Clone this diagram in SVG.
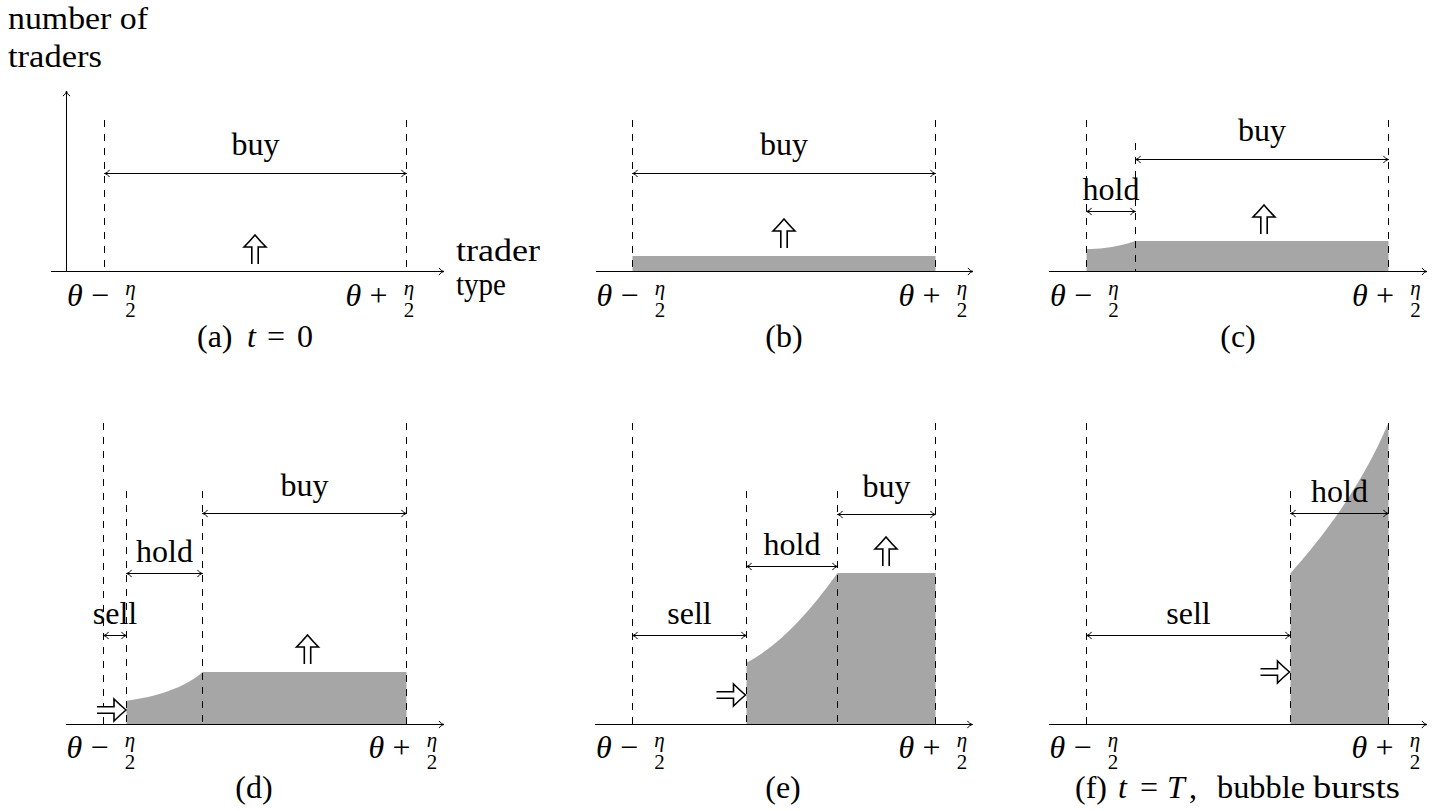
<svg xmlns="http://www.w3.org/2000/svg" xmlns:xlink="http://www.w3.org/1999/xlink" width="1440" height="811" viewBox="0 0 1440 811">
<style>
.t{font-family:"Liberation Serif","Times New Roman",serif;font-size:32px;fill:#000}
.i{font-style:italic}
.s{font-size:21px}
.c{text-anchor:middle}
.ax{stroke:#000;stroke-width:1;fill:none}
.dash{stroke:#000;stroke-width:1;stroke-dasharray:7 7;fill:none}
.dim{stroke:#000;stroke-width:1;fill:none;marker-start:url(#tip);marker-end:url(#tip)}
.fill{fill:#a6a6a6;stroke:none}
</style>
<defs>
<marker id="tip" markerUnits="userSpaceOnUse" viewBox="-7 -5 9 10" refX="0" refY="0" markerWidth="9" markerHeight="10" orient="auto-start-reverse" overflow="visible">
<path d="M-5,-3.6 C-4,-1.5 -1.5,-0.5 0,0 C-1.5,0.5 -4,1.5 -5,3.6" fill="none" stroke="#000" stroke-width="1"/>
</marker>
<path id="uarr" d="M-3.2,29 V12 H-11 Q-5.5,6.5 0,0 Q5.5,6.5 11,12 H3.2 V29" fill="#fff" stroke="#000" stroke-width="1.6" stroke-linejoin="miter"/>
</defs>
<rect width="1440" height="811" fill="#fff"/>

<g id="ylabel">
<text class="t" x="8" y="29" textLength="140" lengthAdjust="spacingAndGlyphs">number of</text>
<text class="t" x="8" y="67" textLength="94" lengthAdjust="spacingAndGlyphs">traders</text>
</g>

<!-- Panel a -->
<g id="panel-a">
<line class="dash" x1="104.5" y1="120" x2="104.5" y2="271.5"/>
<line class="dash" x1="406.5" y1="120" x2="406.5" y2="271.5"/>
<text class="t c" x="255.5" y="155">buy</text>
<use xlink:href="#uarr" href="#uarr" transform="translate(255,235)"/>
<text class="t" x="456" y="261" textLength="84" lengthAdjust="spacingAndGlyphs">trader</text>
<text class="t" x="456" y="295" textLength="50" lengthAdjust="spacingAndGlyphs">type</text>
<text class="t i" x="67" y="306">θ</text><text class="t c" x="100" y="306">−</text><text class="t s i c" x="130.5" y="294.5">η</text><text class="t s c" x="130.5" y="317">2</text>
<text class="t i" x="345.5" y="306">θ</text><text class="t c" x="378.5" y="306">+</text><text class="t s i c" x="409" y="294.5">η</text><text class="t s c" x="409" y="317">2</text>
<text class="t" y="347"><tspan x="197">(a)</tspan><tspan x="247" font-style="italic">t</tspan><tspan x="267">=</tspan><tspan x="297">0</tspan></text>
</g>

<!-- Panel b -->
<g id="panel-b">
<rect class="fill" x="632.5" y="256" width="303" height="15.5"/>
<line class="dash" x1="632.5" y1="120" x2="632.5" y2="271.5"/>
<line class="dash" x1="935.5" y1="120" x2="935.5" y2="271.5"/>
<text class="t c" x="784" y="155">buy</text>
<use xlink:href="#uarr" href="#uarr" transform="translate(784,219)"/>
<text class="t i" x="596.5" y="306">θ</text><text class="t c" x="629.5" y="306">−</text><text class="t s i c" x="660" y="294.5">η</text><text class="t s c" x="660" y="317">2</text>
<text class="t i" x="898.5" y="306">θ</text><text class="t c" x="931.5" y="306">+</text><text class="t s i c" x="962" y="294.5">η</text><text class="t s c" x="962" y="317">2</text>
<text class="t c" x="784" y="347">(b)</text>
</g>

<!-- Panel c -->
<g id="panel-c">
<path class="fill" d="M1086.5,271.5 V249.3 Q1115,248.5 1135.5,241 H1388.5 V271.5 Z"/>
<line class="dash" x1="1086.5" y1="120" x2="1086.5" y2="271.5"/>
<line class="dash" x1="1135.5" y1="143" x2="1135.5" y2="271.5"/>
<line class="dash" x1="1388.5" y1="120" x2="1388.5" y2="271.5"/>
<text class="t c" x="1262" y="141">buy</text>
<text class="t c" x="1111" y="200">hold</text>
<use xlink:href="#uarr" href="#uarr" transform="translate(1264,205)"/>
<text class="t i" x="1050" y="306">θ</text><text class="t c" x="1083" y="306">−</text><text class="t s i c" x="1113.5" y="294.5">η</text><text class="t s c" x="1113.5" y="317">2</text>
<text class="t i" x="1352" y="306">θ</text><text class="t c" x="1385" y="306">+</text><text class="t s i c" x="1415.5" y="294.5">η</text><text class="t s c" x="1415.5" y="317">2</text>
<text class="t c" x="1238" y="347">(c)</text>
</g>

<!-- Panel d -->
<g id="panel-d">
<path class="fill" d="M126.5,724.5 V700.7 C155,697 185,688 202.5,672 H406.5 V724.5 Z"/>
<line class="dash" x1="103.5" y1="423" x2="103.5" y2="724.5"/>
<line class="dash" x1="126.5" y1="491" x2="126.5" y2="724.5"/>
<line class="dash" x1="202.5" y1="491" x2="202.5" y2="724.5"/>
<line class="dash" x1="406.5" y1="423" x2="406.5" y2="724.5"/>
<text class="t c" x="304.5" y="495.5">buy</text>
<text class="t c" x="164.5" y="562">hold</text>
<text class="t c" x="115" y="624">sell</text>
<use xlink:href="#uarr" href="#uarr" transform="translate(307.5,635)"/>
<use xlink:href="#uarr" href="#uarr" transform="translate(126,710) rotate(90)"/>
<text class="t i" x="66.5" y="758">θ</text><text class="t c" x="99.5" y="758">−</text><text class="t s i c" x="130" y="746.5">η</text><text class="t s c" x="130" y="769">2</text>
<text class="t i" x="368.5" y="758">θ</text><text class="t c" x="401.5" y="758">+</text><text class="t s i c" x="432" y="746.5">η</text><text class="t s c" x="432" y="769">2</text>
<text class="t c" x="254" y="798">(d)</text>
</g>

<!-- Panel e -->
<g id="panel-e">
<path class="fill" d="M746.5,724.5 V662.7 Q790,640 837.5,573 H935.5 V724.5 Z"/>
<line class="dash" x1="632.5" y1="423" x2="632.5" y2="724.5"/>
<line class="dash" x1="746.5" y1="491" x2="746.5" y2="724.5"/>
<line class="dash" x1="837.5" y1="491" x2="837.5" y2="724.5"/>
<line class="dash" x1="935.5" y1="423" x2="935.5" y2="724.5"/>
<text class="t c" x="886.5" y="496.5">buy</text>
<text class="t c" x="792" y="555">hold</text>
<text class="t c" x="689.5" y="624">sell</text>
<use xlink:href="#uarr" href="#uarr" transform="translate(886,537)"/>
<use xlink:href="#uarr" href="#uarr" transform="translate(745.5,695) rotate(90)"/>
<text class="t i" x="596" y="758">θ</text><text class="t c" x="629" y="758">−</text><text class="t s i c" x="659.5" y="746.5">η</text><text class="t s c" x="659.5" y="769">2</text>
<text class="t i" x="898.5" y="758">θ</text><text class="t c" x="931.5" y="758">+</text><text class="t s i c" x="962" y="746.5">η</text><text class="t s c" x="962" y="769">2</text>
<text class="t c" x="783" y="798">(e)</text>
</g>

<!-- Panel f -->
<g id="panel-f">
<path class="fill" d="M1290.5,724.5 V573.3 C1320,540 1360,490 1388.5,422.7 V724.5 Z"/>
<line class="dash" x1="1086.5" y1="423" x2="1086.5" y2="724.5"/>
<line class="dash" x1="1290.5" y1="491" x2="1290.5" y2="724.5"/>
<line class="dash" x1="1388.5" y1="423" x2="1388.5" y2="724.5"/>
<text class="t c" x="1339.5" y="502">hold</text>
<text class="t c" x="1188.5" y="624">sell</text>
<use xlink:href="#uarr" href="#uarr" transform="translate(1289.5,672) rotate(90)"/>
<text class="t i" x="1049.5" y="758">θ</text><text class="t c" x="1082.5" y="758">−</text><text class="t s i c" x="1113" y="746.5">η</text><text class="t s c" x="1113" y="769">2</text>
<text class="t i" x="1351.5" y="758">θ</text><text class="t c" x="1384.5" y="758">+</text><text class="t s i c" x="1415" y="746.5">η</text><text class="t s c" x="1415" y="769">2</text>
<text class="t" y="798"><tspan x="1075">(f)</tspan><tspan x="1118" font-style="italic">t</tspan><tspan x="1140">=</tspan><tspan x="1167" font-style="italic">T</tspan><tspan x="1189">,</tspan></text>
<text class="t" x="1217" y="798" textLength="88" lengthAdjust="spacingAndGlyphs">bubble</text>
<text class="t" x="1313" y="798" textLength="87" lengthAdjust="spacingAndGlyphs">bursts</text>
</g>

<g id="connectors">
<line class="ax" x1="66.5" y1="271.5" x2="66.5" y2="91" marker-end="url(#tip)"/>
<line class="ax" x1="51" y1="271.5" x2="444" y2="271.5" marker-end="url(#tip)"/>
<line class="ax" x1="596" y1="271.5" x2="973" y2="271.5" marker-end="url(#tip)"/>
<line class="ax" x1="1049" y1="271.5" x2="1427" y2="271.5" marker-end="url(#tip)"/>
<line class="ax" x1="66" y1="724.5" x2="444" y2="724.5" marker-end="url(#tip)"/>
<line class="ax" x1="595" y1="724.5" x2="972.5" y2="724.5" marker-end="url(#tip)"/>
<line class="ax" x1="1049" y1="724.5" x2="1427" y2="724.5" marker-end="url(#tip)"/>
<line class="dim" x1="104.5" y1="173.5" x2="406.5" y2="173.5"/>
<line class="dim" x1="632.5" y1="173.5" x2="935.5" y2="173.5"/>
<line class="dim" x1="1135.5" y1="159.5" x2="1388.5" y2="159.5"/>
<line class="dim" x1="1086.5" y1="211.5" x2="1135.5" y2="211.5"/>
<line class="dim" x1="202.5" y1="513.5" x2="406.5" y2="513.5"/>
<line class="dim" x1="126.5" y1="573.5" x2="202.5" y2="573.5"/>
<line class="dim" x1="103.5" y1="635.5" x2="126.5" y2="635.5"/>
<line class="dim" x1="837.5" y1="514.5" x2="935.5" y2="514.5"/>
<line class="dim" x1="746.5" y1="566.5" x2="837.5" y2="566.5"/>
<line class="dim" x1="632.5" y1="635.5" x2="746.5" y2="635.5"/>
<line class="dim" x1="1290.5" y1="513.5" x2="1388.5" y2="513.5"/>
<line class="dim" x1="1086.5" y1="635.5" x2="1290.5" y2="635.5"/>
</g>
</svg>
